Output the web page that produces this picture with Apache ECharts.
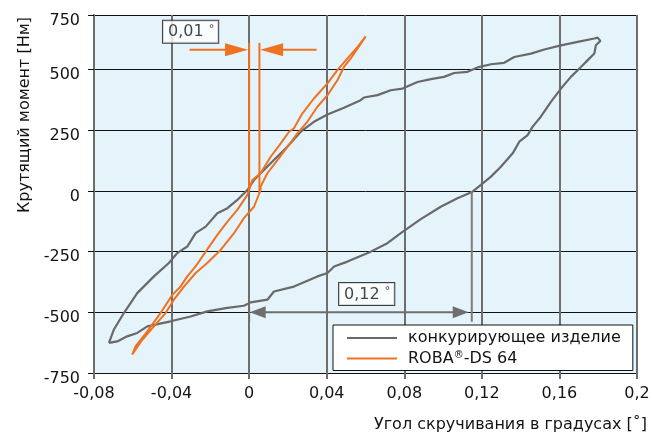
<!DOCTYPE html>
<html><head><meta charset="utf-8">
<script src="https://cdn.jsdelivr.net/npm/echarts@6/dist/echarts.min.js"></script>
<style>html,body{margin:0;padding:0;background:#fff}#c{width:653px;height:439px}</style>
</head><body><div id="c"></div>
<script>
const seriesNames = ['конкурирующее изделие', 'ROBA®-DS 64'];
const xTickLabels = ['-0,08', '-0,04', '0', '0,04', '0,08', '0,12', '0,16', '0,2'];
const yTickLabels = ['-750', '-500', '-250', '0', '250', '500', '750'];
const xAxisName = 'Угол скручивания в градусах [˚]';
const yAxisName = 'Крутящий момент [Нм]';

// competitor hysteresis loop [angle °, torque Nm]
const competitorLoop = [
  [-0.0723,-626],[-0.0698,-572],[-0.0646,-503],[-0.0577,-421],[-0.0491,-352],[-0.0414,-297],[-0.0371,-256],
  [-0.0319,-229],[-0.0276,-174],[-0.0224,-147],[-0.0164,-92],[-0.0112,-71],[-0.0061,-37],[-0.0009,4],
  [0.0025,45],[0.0111,114],[0.0197,182],[0.0266,244],[0.0334,285],[0.0404,315],[0.0489,343],[0.0575,374],
  [0.0592,385],[0.0662,395],[0.0730,415],[0.0791,422],[0.0868,449],[0.0937,461],[0.1005,470],[0.1057,486],
  [0.1126,491],[0.1178,509],[0.1247,522],[0.1315,528],[0.1367,552],[0.1453,566],[0.1522,583],[0.1608,600],
  [0.1694,614],[0.1780,628],[0.1797,632],[0.1811,618],
  [0.1788,600],[0.1780,566],[0.1746,539],[0.1711,511],[0.1659,470],[0.1608,422],[0.1556,367],[0.1504,306],
  [0.1461,264],[0.1436,230],[0.1393,203],[0.1359,155],[0.1298,100],[0.1247,59],[0.1195,25],[0.1152,-3],
  [0.1074,-30],[0.0988,-65],[0.0885,-116],[0.0782,-174],[0.0713,-215],[0.0627,-250],[0.0507,-291],
  [0.0438,-311],[0.0404,-338],[0.0352,-352],[0.0231,-394],[0.0128,-414],[0.0094,-448],[0.0008,-459],
  [-0.0027,-473],[-0.0113,-482],[-0.0216,-496],[-0.0302,-517],[-0.0405,-537],[-0.0525,-558],[-0.0577,-585],
  [-0.0629,-599],[-0.0680,-620],[-0.0723,-626]
];

// ROBA-DS 64 hysteresis loop [angle °, torque Nm]
const robaLoop = [
  [-0.0603,-674],[-0.0586,-640],[-0.0526,-579],[-0.0457,-503],[-0.0396,-428],[-0.0354,-394],[-0.0319,-352],
  [-0.0276,-311],[-0.0224,-250],[-0.0164,-181],[-0.0112,-126],[-0.0061,-78],[-0.0009,-16],[0.0017,45],
  [0.0059,73],[0.0111,141],[0.0163,196],[0.0206,244],[0.0231,258],[0.0275,320],[0.0334,381],[0.0404,443],
  [0.0455,498],[0.0507,546],[0.0558,593],[0.0601,637],
  [0.0576,607],[0.0524,546],[0.0489,511],[0.0455,456],[0.0404,395],[0.0352,347],[0.0300,285],[0.0249,237],
  [0.0197,182],[0.0146,127],[0.0094,73],[0.0059,18],[0.0059,4],[0.0025,-65],[-0.0027,-112],[-0.0078,-174],
  [-0.0147,-243],[-0.0216,-297],[-0.0276,-338],[-0.0336,-394],[-0.0388,-448],[-0.0431,-503],[-0.0491,-558],
  [-0.0551,-613],[-0.0586,-654],[-0.0603,-674]
];

// annotations
const smallGapLabel = '0,01°';
const largeGapLabel = '0,12°';
const smallGapLineA = [[0, 610], [0, 0]];
const smallGapLineB = [[0.0053, 610], [0.0053, -8]];
const smallGapShaftL = [[-0.0307, 582], [-0.0065, 582]];
const smallGapShaftR = [[0.0348, 582], [0.0116, 582]];
const smallGapHeads = [[-0.0065, 582], [0.0116, 582]];
const smallGapHeadDirs = ['right', 'left'];
const smallGapLabelPos = [[-0.0302, 656]];
const largeGapLineA = [[0.1148, 0], [0.1148, -539]];
const largeGapLineB = [[0, -480], [0, -539]];
const largeGapShaft = [[0.0044, -500], [0.1091, -500]];
const largeGapHeads = [[0.0044, -500], [0.1091, -500]];
const largeGapHeadDirs = ['left', 'right'];
const largeGapLabelPos = [[0.0606, -424]];

const FONT = 'DejaVu Sans';
const ORANGE = '#ef7221';
const GRAY = '#696969';
const TXT = '#141414';
const rot = d => (d === 'left' ? 90 : -90);

const chart = echarts.init(document.getElementById('c'));
const boxLabel = (txt) => ({
  show: true, position: 'inside', formatter: txt.replace('°', ' {d|°}'), backgroundColor: '#fff',
  borderColor: '#111', borderWidth: 1, padding: [3, 4, 2, 5], fontSize: 16, color: TXT, fontFamily: FONT,
  rich: { d: { fontSize: 11, color: TXT, fontFamily: FONT, padding: [0, 0, 6, 0] } }
});
const plainLine = (data, color, z) => ({
  type: 'line', data, symbol: 'none', showSymbol: false, silent: true, z: z || 5,
  lineStyle: { color, width: 2 }, itemStyle: { color }, emphasis: { disabled: true }
});
const heads = (data, dirs, color, size) => ({
  type: 'scatter', silent: true, z: 6, symbol: 'triangle', symbolSize: size,
  data: data.map((p, i) => ({ value: p, symbolRotate: rot(dirs[i]) })),
  itemStyle: { color, opacity: 1 }, emphasis: { disabled: true }
});
chart.setOption({
  animation: false,
  textStyle: { fontFamily: FONT },
  grid: { left: 94, right: 16, top: 15, bottom: 66, show: true, backgroundColor: '#e5f3fa', borderWidth: 0 },
  legend: {
    data: seriesNames, orient: 'vertical', left: 333, top: 325,
    backgroundColor: '#fff', borderColor: '#111', borderWidth: 1, borderRadius: 0,
    padding: [5, 12, 4, 14], itemGap: 4, itemWidth: 50, itemHeight: 2, icon: 'rect',
    formatter: n => n.replace('®', '{sup|®}'),
    textStyle: { fontSize: 16, color: TXT, fontFamily: FONT, padding: [0, 0, 0, 6],
      rich: { sup: { fontSize: 10, color: TXT, fontFamily: FONT, padding: [0, 0, 7, 0] } } }
  },
  xAxis: {
    type: 'value', min: -0.08, max: 0.2, interval: 0.04,
    axisLine: { show: true, onZero: false, lineStyle: { color: '#111', width: 1 } },
    axisTick: { show: true, length: 6, lineStyle: { color: '#6e6e6e', width: 2 } },
    splitLine: { show: true, lineStyle: { color: '#6e6e6e', width: 2 } },
    axisLabel: { formatter: (v, i) => xTickLabels[i], color: TXT, fontSize: 16, margin: 13 },
    name: xAxisName, nameLocation: 'end', nameGap: 10,
    nameTextStyle: { align: 'right', verticalAlign: 'top', padding: [44, 0, 0, 0], fontSize: 16, color: TXT }
  },
  yAxis: {
    type: 'value', min: -750, max: 725, interval: 250,
    axisLine: { show: true, onZero: false, lineStyle: { color: '#6e6e6e', width: 2 } },
    axisTick: { show: true, length: 6, lineStyle: { color: '#111', width: 1 } },
    splitLine: { show: true, lineStyle: { color: '#111', width: 1 } },
    axisLabel: { formatter: (v, i) => '{a|' + yTickLabels[i] + '}', color: TXT, fontSize: 16, margin: 14,
      rich: { a: { fontSize: 16, color: TXT, fontFamily: FONT, padding: [11, 0, 0, 0] } } },
    name: yAxisName, nameLocation: 'middle', nameGap: 60, nameRotate: 90,
    nameTextStyle: { fontSize: 16, color: TXT, padding: [0, 0, 0, 158] }
  },
  series: [
    { name: seriesNames[0], type: 'line', data: competitorLoop, symbol: 'none', showSymbol: false,
      lineStyle: { color: GRAY, width: 2.2 }, itemStyle: { color: GRAY }, silent: true, z: 3 },
    { name: seriesNames[1], type: 'line', data: robaLoop, symbol: 'none', showSymbol: false,
      lineStyle: { color: ORANGE, width: 2 }, itemStyle: { color: ORANGE }, silent: true, z: 4 },
    plainLine(smallGapLineA, ORANGE),
    plainLine(smallGapLineB, ORANGE),
    plainLine(smallGapShaftL, ORANGE),
    plainLine(smallGapShaftR, ORANGE),
    heads(smallGapHeads, smallGapHeadDirs, ORANGE, [13, 23]),
    plainLine(largeGapLineA, '#7d7d7d'),
    plainLine(largeGapLineB, '#6e6e6e'),
    plainLine(largeGapShaft, '#6e6e6e'),
    heads(largeGapHeads, largeGapHeadDirs, '#6e6e6e', [12, 16]),
    { type: 'scatter', data: smallGapLabelPos, symbolSize: 1, itemStyle: { color: 'rgba(0,0,0,0)' },
      label: boxLabel(smallGapLabel), silent: true, z: 7 },
    { type: 'scatter', data: largeGapLabelPos, symbolSize: 1, itemStyle: { color: 'rgba(0,0,0,0)' },
      label: boxLabel(largeGapLabel), silent: true, z: 7 }
  ]
});
</script></body></html>
